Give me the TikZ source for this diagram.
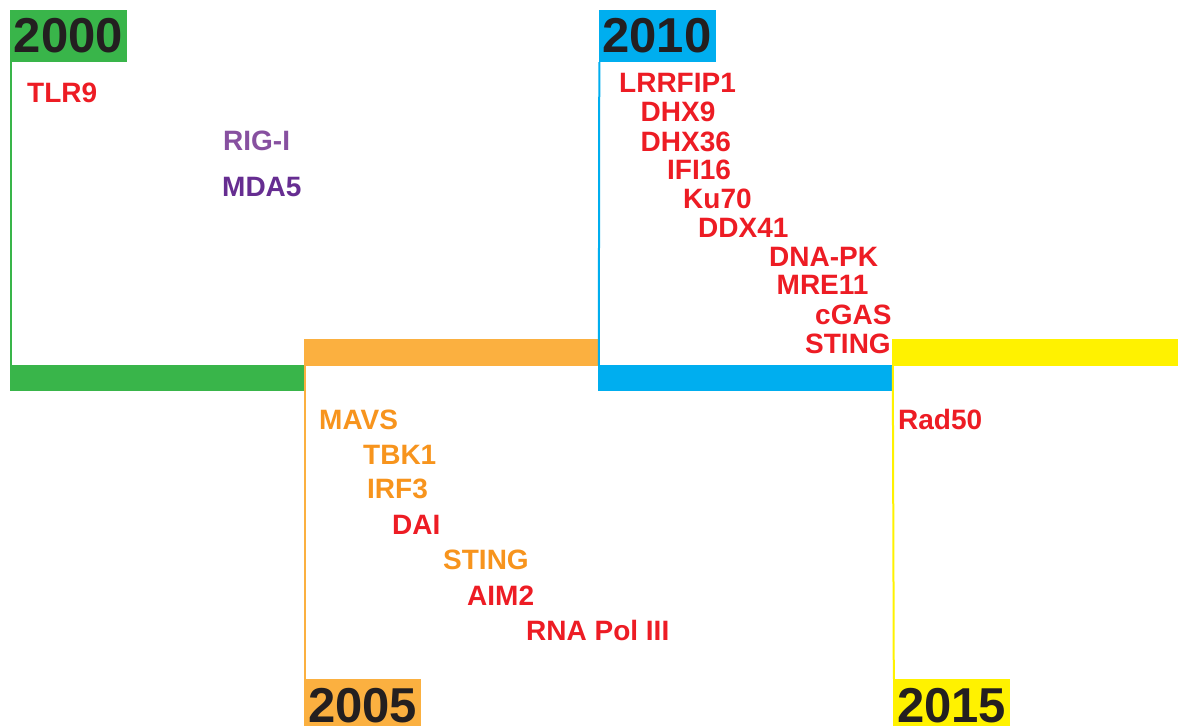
\documentclass[tikz,border=0pt]{standalone}
\usepackage{fontspec}
\setmainfont{Liberation Sans}
\definecolor{yrgreen}{HTML}{39B54A}
\definecolor{yrorange}{HTML}{FBB040}
\definecolor{yrblue}{HTML}{00AEEF}
\definecolor{yryellow}{HTML}{FFF200}
\definecolor{txtred}{HTML}{ED1C24}
\definecolor{txtorange}{HTML}{F7941D}
\definecolor{txtrig}{HTML}{8750A0}
\definecolor{txtmda}{HTML}{662D91}
\definecolor{yrtext}{HTML}{231F20}
\begin{document}
\begin{tikzpicture}[x=1pt,y=-1pt,
    year/.style={inner sep=0pt,minimum width=117pt,minimum height=52pt,
      text=yrtext,font=\fontsize{49}{50}\selectfont\bfseries},
    lowyear/.style={year,minimum height=47pt,text height=42pt,text depth=2pt},
    bar/.style={inner sep=0pt,minimum width=294pt,minimum height=26pt},
    gene/.style={anchor=base west,inner sep=0pt,
      font=\fontsize{28}{30}\selectfont\bfseries},
    tick/.style={line width=2pt}]
  \useasboundingbox (0,0) rectangle (1178,727);
  % year boxes
  \draw
    (68.5,36) node[year,fill=yrgreen] (y2000){2000}
    (362.5,702.5) node[lowyear,fill=yrorange] (y2005){2005}
    (657,36) node[year,fill=yrblue] (y2010){2010}
    (951.5,702.5) node[lowyear,fill=yryellow] (y2015){2015};
  % timeline bars
  \draw
    (157.5,378) node[bar,fill=yrgreen,minimum width=295pt] (b2000){}
    (451,352.5) node[bar,fill=yrorange,minimum height=27pt] (b2005){}
    (745,378) node[bar,fill=yrblue] (b2010){}
    (1035,352.5) node[bar,fill=yryellow,minimum width=286pt,minimum height=27pt] (b2015){};
  \begin{scope}[tick]
    \draw[yrgreen] ([xshift=1pt]y2000.south west) to ([xshift=1pt]b2000.north west);
    \draw[yrorange] ([xshift=1pt]b2005.south west) to ([xshift=1pt]y2005.north west);
    \draw[yrblue] ([xshift=1pt]y2010.south west) to ([xshift=1pt]b2010.north west);
    \draw[yryellow] ([xshift=1pt]b2015.south west) to ([xshift=1pt]y2015.north west);
  \end{scope}
  % 2000
  \node[gene,text=txtred] (tlr9) at (27,103) {TLR9};
  \node[gene,text=txtrig] (rigi) at (223,151) {RIG-I};
  \node[gene,text=txtmda] (mda5) at (222,197) {MDA5};
  % 2005
  \node[gene,text=txtorange] (mavs) at (319,429) {MAVS};
  \node[gene,text=txtorange] (tbk1) at (363,464) {TBK1};
  \node[gene,text=txtorange] (irf3) at (367,498.5) {IRF3};
  \node[gene,text=txtred] (dai) at (392,534) {DAI};
  \node[gene,text=txtorange] (sting1) at (443,569.5) {STING};
  \node[gene,text=txtred] (aim2) at (467,605) {AIM2};
  \node[gene,text=txtred] (polIII) at (526,640) {RNA Pol III};
  % 2010
  \node[gene,text=txtred] (lrrfip1) at (619,93) {LRRFIP1};
  \node[gene,text=txtred] (dhx9) at (640.5,122) {DHX9};
  \node[gene,text=txtred] (dhx36) at (640.5,151.5) {DHX36};
  \node[gene,text=txtred] (ifi16) at (667,180) {IFI16};
  \node[gene,text=txtred] (ku70) at (683,209) {Ku70};
  \node[gene,text=txtred] (ddx41) at (698,237.5) {DDX41};
  \node[gene,text=txtred] (dnapk) at (769,266.5) {DNA-PK};
  \node[gene,text=txtred] (mre11) at (776.5,295) {MRE11};
  \node[gene,text=txtred] (cgas) at (815,324) {cGAS};
  \node[gene,text=txtred] (sting2) at (805,353.5) {STING};
  % 2015
  \node[gene,text=txtred] (rad50) at (898,429) {Rad50};
\end{tikzpicture}
\end{document}
